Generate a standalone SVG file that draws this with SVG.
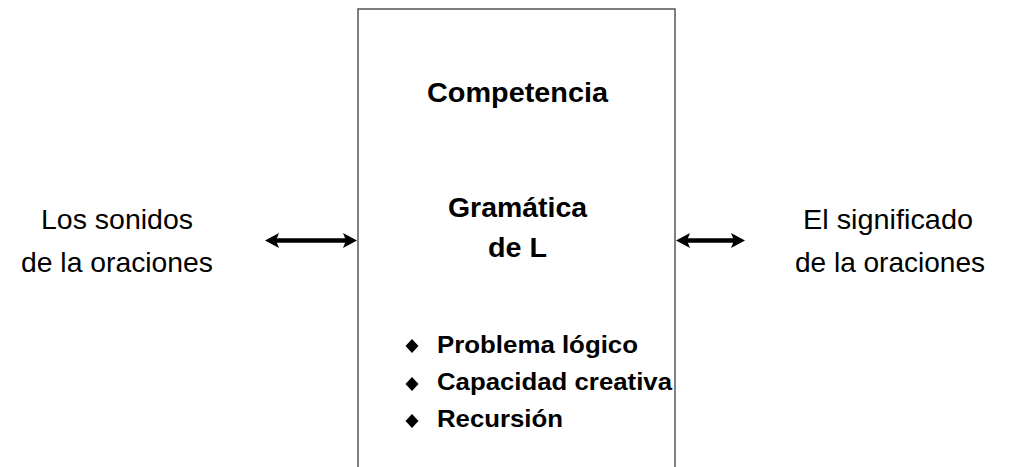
<svg xmlns="http://www.w3.org/2000/svg" width="1011" height="467" viewBox="0 0 1011 467">
  <defs>
    <style>
      .t { font-family: "Liberation Sans", Arial, sans-serif; fill: #000; }
      .b { font-weight: bold; }
      .box { fill: #fff; stroke: #4a4a4a; stroke-width: 1.4; }
      .conn { stroke: #000; stroke-width: 4.5; fill: none; }
    </style>
    <marker id="ah" markerUnits="userSpaceOnUse" markerWidth="16" markerHeight="16" refX="3" refY="7.5" orient="auto-start-reverse">
      <path d="M0,0 L14,7.5 L0,15 L3,7.5 z" fill="#000"/>
    </marker>
    <path id="dm" d="M0,-7 L6.5,0 L0,7 L-6.5,0 z" fill="#000"/>
  </defs>
  <rect width="1011" height="467" fill="#fff"/>

  <g id="competencia">
    <rect class="box" x="358" y="9" width="317" height="470"/>
    <text class="t b" x="427" y="102" font-size="28.5" textLength="181" lengthAdjust="spacingAndGlyphs">Competencia</text>
    <text class="t b" x="448" y="217" font-size="28.5" textLength="139" lengthAdjust="spacingAndGlyphs">Gramática</text>
    <text class="t b" x="488" y="257" font-size="28.5" textLength="59" lengthAdjust="spacingAndGlyphs">de L</text>
    <use href="#dm" x="412" y="346"/>
    <use href="#dm" x="412" y="384"/>
    <use href="#dm" x="412" y="421"/>
    <text class="t b" x="437" y="353" font-size="24.5" textLength="201" lengthAdjust="spacingAndGlyphs">Problema lógico</text>
    <text class="t b" x="437" y="390" font-size="24.5" textLength="235" lengthAdjust="spacingAndGlyphs">Capacidad creativa</text>
    <text class="t b" x="437" y="427" font-size="24.5" textLength="126" lengthAdjust="spacingAndGlyphs">Recursión</text>
  </g>

  <g id="sonidos">
    <text class="t" x="41" y="229" font-size="28" textLength="152" lengthAdjust="spacingAndGlyphs">Los sonidos</text>
    <text class="t" x="21" y="272" font-size="28" textLength="192" lengthAdjust="spacingAndGlyphs">de la oraciones</text>
  </g>

  <g id="significado">
    <text class="t" x="803" y="229" font-size="28" textLength="170" lengthAdjust="spacingAndGlyphs">El significado</text>
    <text class="t" x="795" y="272" font-size="28" textLength="190" lengthAdjust="spacingAndGlyphs">de la oraciones</text>
  </g>

  <g id="connectors">
    <line class="conn" x1="276" y1="240.5" x2="346" y2="240.5" marker-start="url(#ah)" marker-end="url(#ah)"/>
    <line class="conn" x1="687" y1="240.5" x2="734" y2="240.5" marker-start="url(#ah)" marker-end="url(#ah)"/>
  </g>
</svg>
